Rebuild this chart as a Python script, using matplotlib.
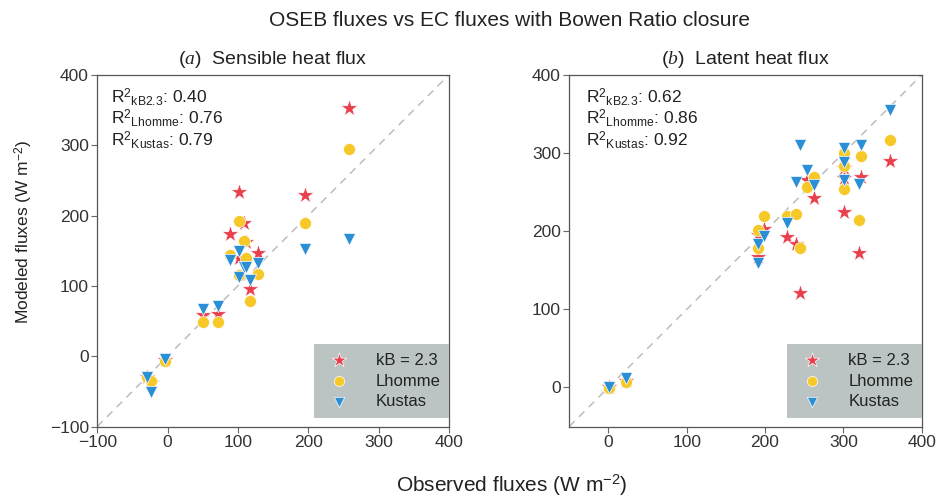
import matplotlib
matplotlib.use("Agg")
import matplotlib.pyplot as plt

plt.rcParams['font.family'] = ['Liberation Sans', 'DejaVu Sans']
plt.rcParams['mathtext.fontset'] = 'custom'
plt.rcParams['mathtext.rm'] = 'Liberation Sans'
plt.rcParams['mathtext.it'] = 'Liberation Serif:italic'
plt.rcParams['mathtext.bf'] = 'Liberation Sans:bold'

# ---- data: sensible heat flux (panel a) ----
obs_H = [-30, -23, -3, 50, 72, 89, 101, 102, 109, 111, 117, 129, 195, 258]
H_kB = [-29, -38, -5, 59, 60, 174, 233, 140, 190, 163, 95, 147, 229, 353]
H_lhomme = [-30, -35, -7, 48, 48, 144, 193, 116, 164, 140, 78, 117, 189, 295]
H_kustas = [-30, -51, -4, 67, 71, 137, 150, 113, 127, 127, 109, 132, 152, 166]

# ---- data: latent heat flux (panel b) ----
obs_LE = [1, 22, 191, 191, 199, 228, 240, 244, 253, 262, 301, 301, 301, 320, 322, 359]
LE_kB = [0, 8, 195, 167, 203, 193, 184, 121, 265, 242, 281, 268, 225, 172, 270, 290]
LE_lhomme = [-1, 7, 202, 178, 219, 220, 222, 179, 257, 269, 300, 284, 254, 214, 296, 317]
LE_kustas = [0, 12, 184, 159, 194, 210, 263, 310, 278, 259, 307, 288, 265, 260, 310, 355]

series_names = ['kB = 2.3', 'Lhomme', 'Kustas']
r2_H = ['0.40', '0.76', '0.79']
r2_LE = ['0.62', '0.86', '0.92']
r2_subs = ['kB2.3', 'Lhomme', 'Kustas']

colors = ['#e8404c', '#f6c928', '#2b8fd6']
markers = ['*', 'o', 'v']
sizes = [165, 75, 78]

fig = plt.figure(figsize=(9.4, 4.98), dpi=100)
axA = fig.add_axes([0.1035, 0.1435, 0.3740, 0.7060])
axB = fig.add_axes([0.6056, 0.1435, 0.3749, 0.7060])

panels = [
    (axA, obs_H, [H_kB, H_lhomme, H_kustas], r2_H, (-100, 400),
     [-100, 0, 100, 200, 300, 400], r'$\mathit{(a)}$  Sensible heat flux', 0.038),
    (axB, obs_LE, [LE_kB, LE_lhomme, LE_kustas], r2_LE, (-50, 400),
     [0, 100, 200, 300, 400], r'$\mathit{(b)}$  Latent heat flux', 0.047),
]

for ax, obs, mods, r2, lim, ticks, title, tx in panels:
    ax.plot(lim, lim, ls=(0, (5, 4)), color='#bdbdbd', lw=1.1, zorder=1)
    for vals, name, c, m, s in zip(mods, series_names, colors, markers, sizes):
        ax.scatter(obs, vals, s=s, c=c, marker=m, edgecolors='white',
                   linewidths=0.5, label=name, zorder=3)
    ax.set_xlim(lim)
    ax.set_ylim(lim)
    ax.set_xticks(ticks)
    ax.set_yticks(ticks)
    ax.tick_params(direction='out', length=4, width=0.8, color='#666666',
                   labelsize=12.5, labelcolor='#333333', pad=2)
    for sp in ax.spines.values():
        sp.set_color('#555555')
        sp.set_linewidth(0.9)
    ax.set_title(title, fontsize=14, pad=8, color='#222222')
    ys = [0.9375, 0.877, 0.815]
    for sub, val, y in zip(r2_subs, r2, ys):
        ax.text(tx, y, 'R$^{2}$$_{\\mathrm{' + sub + '}}$: ' + val,
                transform=ax.transAxes, fontsize=12.5, va='center', ha='left',
                color='#222222')
    leg = ax.legend(loc='lower right', bbox_to_anchor=(1.0, 0.025),
                    borderaxespad=0, frameon=True, facecolor='#bcc3c3',
                    edgecolor='none', framealpha=1, scatterpoints=1,
                    fontsize=12, markerscale=0.85, handletextpad=1.2,
                    borderpad=0.5, labelspacing=0.35, handlelength=2.0,
                    fancybox=False)
    for t in leg.get_texts():
        t.set_color('#222222')

fig.text(0.542, 0.9478, 'OSEB fluxes vs EC fluxes with Bowen Ratio closure',
         ha='center', va='baseline', fontsize=15, color='#222222')
fig.text(0.544, 0.0127, 'Observed fluxes (W m$^{-2}$)', ha='center',
         va='baseline', fontsize=15, color='#222222')
fig.text(0.025, 0.534, 'Modeled fluxes (W m$^{-2}$)', ha='center',
         va='center', rotation=90, fontsize=12.5, color='#222222')

fig.savefig('out.png', dpi=100)
